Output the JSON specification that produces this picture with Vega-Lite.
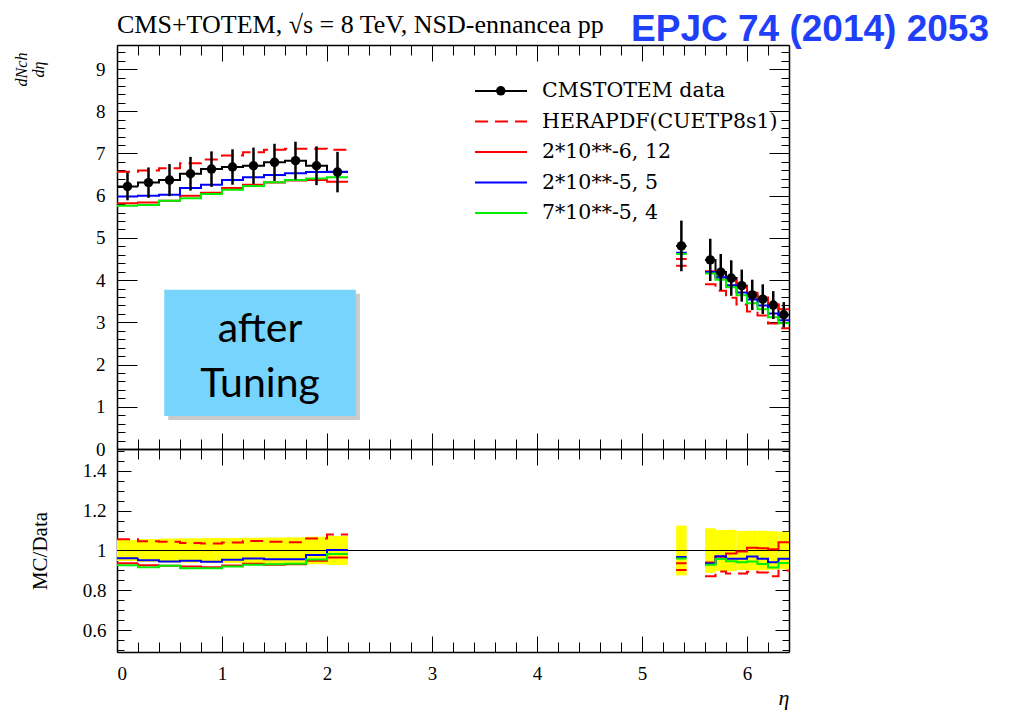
{
  "$schema": "https://vega.github.io/schema/vega-lite/v6.json",
  "background": "white",
  "padding": {"left": 13, "top": 10, "right": 5, "bottom": 5},
  "config": {
    "view": {"stroke": null},
    "font": "Liberation Serif",
    "axis": {
      "grid": false,
      "domainColor": "black",
      "domainWidth": 1.5,
      "tickColor": "black",
      "tickWidth": 1,
      "labelColor": "black",
      "titleColor": "black",
      "labelFont": "Liberation Serif",
      "titleFont": "Liberation Serif",
      "titleFontWeight": "normal"
    }
  },
  "datasets": {
    "dndeta": [
      {"series": "CMSTOTEM data", "part": "c", "eta": 0.0, "val": 6.22},
      {"series": "CMSTOTEM data", "part": "c", "eta": 0.2, "val": 6.31},
      {"series": "CMSTOTEM data", "part": "c", "eta": 0.4, "val": 6.37},
      {"series": "CMSTOTEM data", "part": "c", "eta": 0.6, "val": 6.52},
      {"series": "CMSTOTEM data", "part": "c", "eta": 0.8, "val": 6.63},
      {"series": "CMSTOTEM data", "part": "c", "eta": 1.0, "val": 6.68},
      {"series": "CMSTOTEM data", "part": "c", "eta": 1.2, "val": 6.71},
      {"series": "CMSTOTEM data", "part": "c", "eta": 1.4, "val": 6.79},
      {"series": "CMSTOTEM data", "part": "c", "eta": 1.6, "val": 6.83},
      {"series": "CMSTOTEM data", "part": "c", "eta": 1.8, "val": 6.71},
      {"series": "CMSTOTEM data", "part": "c", "eta": 2.0, "val": 6.56},
      {"series": "CMSTOTEM data", "part": "c", "eta": 2.2, "val": 6.56},
      {"series": "CMSTOTEM data", "part": "f1", "eta": 5.325, "val": 4.81},
      {"series": "CMSTOTEM data", "part": "f1", "eta": 5.425, "val": 4.81},
      {"series": "CMSTOTEM data", "part": "f2", "eta": 5.6, "val": 4.48},
      {"series": "CMSTOTEM data", "part": "f2", "eta": 5.7, "val": 4.19},
      {"series": "CMSTOTEM data", "part": "f2", "eta": 5.8, "val": 4.05},
      {"series": "CMSTOTEM data", "part": "f2", "eta": 5.9, "val": 3.87},
      {"series": "CMSTOTEM data", "part": "f2", "eta": 6.0, "val": 3.65},
      {"series": "CMSTOTEM data", "part": "f2", "eta": 6.1, "val": 3.55},
      {"series": "CMSTOTEM data", "part": "f2", "eta": 6.2, "val": 3.41},
      {"series": "CMSTOTEM data", "part": "f2", "eta": 6.3, "val": 3.18},
      {"series": "CMSTOTEM data", "part": "f2", "eta": 6.4, "val": 3.18},

      {"series": "HERAPDF(CUETP8s1)", "part": "c", "eta": 0.0, "val": 6.57},
      {"series": "HERAPDF(CUETP8s1)", "part": "c", "eta": 0.2, "val": 6.60},
      {"series": "HERAPDF(CUETP8s1)", "part": "c", "eta": 0.4, "val": 6.65},
      {"series": "HERAPDF(CUETP8s1)", "part": "c", "eta": 0.6, "val": 6.77},
      {"series": "HERAPDF(CUETP8s1)", "part": "c", "eta": 0.8, "val": 6.86},
      {"series": "HERAPDF(CUETP8s1)", "part": "c", "eta": 1.0, "val": 6.95},
      {"series": "HERAPDF(CUETP8s1)", "part": "c", "eta": 1.2, "val": 7.03},
      {"series": "HERAPDF(CUETP8s1)", "part": "c", "eta": 1.4, "val": 7.09},
      {"series": "HERAPDF(CUETP8s1)", "part": "c", "eta": 1.6, "val": 7.11},
      {"series": "HERAPDF(CUETP8s1)", "part": "c", "eta": 1.8, "val": 7.11},
      {"series": "HERAPDF(CUETP8s1)", "part": "c", "eta": 2.0, "val": 7.09},
      {"series": "HERAPDF(CUETP8s1)", "part": "c", "eta": 2.2, "val": 7.09},
      {"series": "HERAPDF(CUETP8s1)", "part": "f1", "eta": 5.325, "val": 4.34},
      {"series": "HERAPDF(CUETP8s1)", "part": "f1", "eta": 5.425, "val": 4.34},
      {"series": "HERAPDF(CUETP8s1)", "part": "f2", "eta": 5.6, "val": 3.90},
      {"series": "HERAPDF(CUETP8s1)", "part": "f2", "eta": 5.7, "val": 3.75},
      {"series": "HERAPDF(CUETP8s1)", "part": "f2", "eta": 5.8, "val": 3.58},
      {"series": "HERAPDF(CUETP8s1)", "part": "f2", "eta": 5.9, "val": 3.42},
      {"series": "HERAPDF(CUETP8s1)", "part": "f2", "eta": 6.0, "val": 3.26},
      {"series": "HERAPDF(CUETP8s1)", "part": "f2", "eta": 6.1, "val": 3.16},
      {"series": "HERAPDF(CUETP8s1)", "part": "f2", "eta": 6.2, "val": 2.97},
      {"series": "HERAPDF(CUETP8s1)", "part": "f2", "eta": 6.3, "val": 2.86},
      {"series": "HERAPDF(CUETP8s1)", "part": "f2", "eta": 6.4, "val": 2.86},

      {"series": "2*10**-6, 12", "part": "c", "eta": 0.0, "val": 5.82},
      {"series": "2*10**-6, 12", "part": "c", "eta": 0.2, "val": 5.84},
      {"series": "2*10**-6, 12", "part": "c", "eta": 0.4, "val": 5.88},
      {"series": "2*10**-6, 12", "part": "c", "eta": 0.6, "val": 6.00},
      {"series": "2*10**-6, 12", "part": "c", "eta": 0.8, "val": 6.07},
      {"series": "2*10**-6, 12", "part": "c", "eta": 1.0, "val": 6.18},
      {"series": "2*10**-6, 12", "part": "c", "eta": 1.2, "val": 6.26},
      {"series": "2*10**-6, 12", "part": "c", "eta": 1.4, "val": 6.31},
      {"series": "2*10**-6, 12", "part": "c", "eta": 1.6, "val": 6.36},
      {"series": "2*10**-6, 12", "part": "c", "eta": 1.8, "val": 6.37},
      {"series": "2*10**-6, 12", "part": "c", "eta": 2.0, "val": 6.33},
      {"series": "2*10**-6, 12", "part": "c", "eta": 2.2, "val": 6.33},
      {"series": "2*10**-6, 12", "part": "f1", "eta": 5.325, "val": 4.50},
      {"series": "2*10**-6, 12", "part": "f1", "eta": 5.425, "val": 4.50},
      {"series": "2*10**-6, 12", "part": "f2", "eta": 5.6, "val": 4.21},
      {"series": "2*10**-6, 12", "part": "f2", "eta": 5.7, "val": 4.06},
      {"series": "2*10**-6, 12", "part": "f2", "eta": 5.8, "val": 3.99},
      {"series": "2*10**-6, 12", "part": "f2", "eta": 5.9, "val": 3.85},
      {"series": "2*10**-6, 12", "part": "f2", "eta": 6.0, "val": 3.70},
      {"series": "2*10**-6, 12", "part": "f2", "eta": 6.1, "val": 3.59},
      {"series": "2*10**-6, 12", "part": "f2", "eta": 6.2, "val": 3.43},
      {"series": "2*10**-6, 12", "part": "f2", "eta": 6.3, "val": 3.31},
      {"series": "2*10**-6, 12", "part": "f2", "eta": 6.4, "val": 3.31},

      {"series": "2*10**-5, 5", "part": "c", "eta": 0.0, "val": 5.98},
      {"series": "2*10**-5, 5", "part": "c", "eta": 0.2, "val": 6.00},
      {"series": "2*10**-5, 5", "part": "c", "eta": 0.4, "val": 6.02},
      {"series": "2*10**-5, 5", "part": "c", "eta": 0.6, "val": 6.18},
      {"series": "2*10**-5, 5", "part": "c", "eta": 0.8, "val": 6.26},
      {"series": "2*10**-5, 5", "part": "c", "eta": 1.0, "val": 6.37},
      {"series": "2*10**-5, 5", "part": "c", "eta": 1.2, "val": 6.44},
      {"series": "2*10**-5, 5", "part": "c", "eta": 1.4, "val": 6.49},
      {"series": "2*10**-5, 5", "part": "c", "eta": 1.6, "val": 6.53},
      {"series": "2*10**-5, 5", "part": "c", "eta": 1.8, "val": 6.56},
      {"series": "2*10**-5, 5", "part": "c", "eta": 2.0, "val": 6.57},
      {"series": "2*10**-5, 5", "part": "c", "eta": 2.2, "val": 6.57},
      {"series": "2*10**-5, 5", "part": "f1", "eta": 5.325, "val": 4.65},
      {"series": "2*10**-5, 5", "part": "f1", "eta": 5.425, "val": 4.65},
      {"series": "2*10**-5, 5", "part": "f2", "eta": 5.6, "val": 4.19},
      {"series": "2*10**-5, 5", "part": "f2", "eta": 5.7, "val": 4.07},
      {"series": "2*10**-5, 5", "part": "f2", "eta": 5.8, "val": 3.88},
      {"series": "2*10**-5, 5", "part": "f2", "eta": 5.9, "val": 3.71},
      {"series": "2*10**-5, 5", "part": "f2", "eta": 6.0, "val": 3.54},
      {"series": "2*10**-5, 5", "part": "f2", "eta": 6.1, "val": 3.40},
      {"series": "2*10**-5, 5", "part": "f2", "eta": 6.2, "val": 3.21},
      {"series": "2*10**-5, 5", "part": "f2", "eta": 6.3, "val": 3.05},
      {"series": "2*10**-5, 5", "part": "f2", "eta": 6.4, "val": 3.05},

      {"series": "7*10**-5, 4", "part": "c", "eta": 0.0, "val": 5.76},
      {"series": "7*10**-5, 4", "part": "c", "eta": 0.2, "val": 5.78},
      {"series": "7*10**-5, 4", "part": "c", "eta": 0.4, "val": 5.88},
      {"series": "7*10**-5, 4", "part": "c", "eta": 0.6, "val": 5.94},
      {"series": "7*10**-5, 4", "part": "c", "eta": 0.8, "val": 6.04},
      {"series": "7*10**-5, 4", "part": "c", "eta": 1.0, "val": 6.14},
      {"series": "7*10**-5, 4", "part": "c", "eta": 1.2, "val": 6.23},
      {"series": "7*10**-5, 4", "part": "c", "eta": 1.4, "val": 6.32},
      {"series": "7*10**-5, 4", "part": "c", "eta": 1.6, "val": 6.37},
      {"series": "7*10**-5, 4", "part": "c", "eta": 1.8, "val": 6.41},
      {"series": "7*10**-5, 4", "part": "c", "eta": 2.0, "val": 6.44},
      {"series": "7*10**-5, 4", "part": "c", "eta": 2.2, "val": 6.44},
      {"series": "7*10**-5, 4", "part": "f1", "eta": 5.325, "val": 4.62},
      {"series": "7*10**-5, 4", "part": "f1", "eta": 5.425, "val": 4.62},
      {"series": "7*10**-5, 4", "part": "f2", "eta": 5.6, "val": 4.16},
      {"series": "7*10**-5, 4", "part": "f2", "eta": 5.7, "val": 4.01},
      {"series": "7*10**-5, 4", "part": "f2", "eta": 5.8, "val": 3.83},
      {"series": "7*10**-5, 4", "part": "f2", "eta": 5.9, "val": 3.64},
      {"series": "7*10**-5, 4", "part": "f2", "eta": 6.0, "val": 3.45},
      {"series": "7*10**-5, 4", "part": "f2", "eta": 6.1, "val": 3.31},
      {"series": "7*10**-5, 4", "part": "f2", "eta": 6.2, "val": 3.12},
      {"series": "7*10**-5, 4", "part": "f2", "eta": 6.3, "val": 2.98},
      {"series": "7*10**-5, 4", "part": "f2", "eta": 6.4, "val": 2.98}
    ],
    "points": [
      {"kind": "CMSTOTEM data", "eta": 0.1, "val": 6.22, "err": 0.33},
      {"kind": "CMSTOTEM data", "eta": 0.3, "val": 6.31, "err": 0.36},
      {"kind": "CMSTOTEM data", "eta": 0.5, "val": 6.37, "err": 0.38},
      {"kind": "CMSTOTEM data", "eta": 0.7, "val": 6.52, "err": 0.40},
      {"kind": "CMSTOTEM data", "eta": 0.9, "val": 6.63, "err": 0.42},
      {"kind": "CMSTOTEM data", "eta": 1.1, "val": 6.68, "err": 0.42},
      {"kind": "CMSTOTEM data", "eta": 1.3, "val": 6.71, "err": 0.43},
      {"kind": "CMSTOTEM data", "eta": 1.5, "val": 6.79, "err": 0.44},
      {"kind": "CMSTOTEM data", "eta": 1.7, "val": 6.83, "err": 0.45},
      {"kind": "CMSTOTEM data", "eta": 1.9, "val": 6.71, "err": 0.46},
      {"kind": "CMSTOTEM data", "eta": 2.1, "val": 6.56, "err": 0.48},
      {"kind": "CMSTOTEM data", "eta": 5.375, "val": 4.81, "err": 0.60},
      {"kind": "CMSTOTEM data", "eta": 5.65, "val": 4.48, "err": 0.50},
      {"kind": "CMSTOTEM data", "eta": 5.75, "val": 4.19, "err": 0.43},
      {"kind": "CMSTOTEM data", "eta": 5.85, "val": 4.05, "err": 0.42},
      {"kind": "CMSTOTEM data", "eta": 5.95, "val": 3.87, "err": 0.38},
      {"kind": "CMSTOTEM data", "eta": 6.05, "val": 3.65, "err": 0.36},
      {"kind": "CMSTOTEM data", "eta": 6.15, "val": 3.55, "err": 0.35},
      {"kind": "CMSTOTEM data", "eta": 6.25, "val": 3.41, "err": 0.33},
      {"kind": "CMSTOTEM data", "eta": 6.35, "val": 3.18, "err": 0.30}
    ],
    "band": [
      {"lo": 0.0, "hi": 0.2, "rlo": 0.947, "rhi": 1.053},
      {"lo": 0.2, "hi": 0.4, "rlo": 0.943, "rhi": 1.057},
      {"lo": 0.4, "hi": 0.6, "rlo": 0.940, "rhi": 1.060},
      {"lo": 0.6, "hi": 0.8, "rlo": 0.939, "rhi": 1.061},
      {"lo": 0.8, "hi": 1.0, "rlo": 0.937, "rhi": 1.063},
      {"lo": 1.0, "hi": 1.2, "rlo": 0.937, "rhi": 1.063},
      {"lo": 1.2, "hi": 1.4, "rlo": 0.936, "rhi": 1.064},
      {"lo": 1.4, "hi": 1.6, "rlo": 0.935, "rhi": 1.065},
      {"lo": 1.6, "hi": 1.8, "rlo": 0.934, "rhi": 1.066},
      {"lo": 1.8, "hi": 2.0, "rlo": 0.931, "rhi": 1.069},
      {"lo": 2.0, "hi": 2.2, "rlo": 0.927, "rhi": 1.073},
      {"lo": 5.325, "hi": 5.425, "rlo": 0.875, "rhi": 1.125},
      {"lo": 5.6, "hi": 5.7, "rlo": 0.888, "rhi": 1.112},
      {"lo": 5.7, "hi": 5.8, "rlo": 0.897, "rhi": 1.103},
      {"lo": 5.8, "hi": 5.9, "rlo": 0.896, "rhi": 1.104},
      {"lo": 5.9, "hi": 6.0, "rlo": 0.902, "rhi": 1.098},
      {"lo": 6.0, "hi": 6.1, "rlo": 0.901, "rhi": 1.099},
      {"lo": 6.1, "hi": 6.2, "rlo": 0.901, "rhi": 1.099},
      {"lo": 6.2, "hi": 6.3, "rlo": 0.903, "rhi": 1.097},
      {"lo": 6.3, "hi": 6.4, "rlo": 0.906, "rhi": 1.094}
    ],
    "ratio": [
      {"series": "HERAPDF(CUETP8s1)", "part": "c", "eta": 0.0, "r": 1.056},
      {"series": "HERAPDF(CUETP8s1)", "part": "c", "eta": 0.2, "r": 1.046},
      {"series": "HERAPDF(CUETP8s1)", "part": "c", "eta": 0.4, "r": 1.044},
      {"series": "HERAPDF(CUETP8s1)", "part": "c", "eta": 0.6, "r": 1.038},
      {"series": "HERAPDF(CUETP8s1)", "part": "c", "eta": 0.8, "r": 1.035},
      {"series": "HERAPDF(CUETP8s1)", "part": "c", "eta": 1.0, "r": 1.040},
      {"series": "HERAPDF(CUETP8s1)", "part": "c", "eta": 1.2, "r": 1.048},
      {"series": "HERAPDF(CUETP8s1)", "part": "c", "eta": 1.4, "r": 1.044},
      {"series": "HERAPDF(CUETP8s1)", "part": "c", "eta": 1.6, "r": 1.041},
      {"series": "HERAPDF(CUETP8s1)", "part": "c", "eta": 1.8, "r": 1.060},
      {"series": "HERAPDF(CUETP8s1)", "part": "c", "eta": 2.0, "r": 1.081},
      {"series": "HERAPDF(CUETP8s1)", "part": "c", "eta": 2.2, "r": 1.081},
      {"series": "HERAPDF(CUETP8s1)", "part": "f1", "eta": 5.325, "r": 0.902},
      {"series": "HERAPDF(CUETP8s1)", "part": "f1", "eta": 5.425, "r": 0.902},
      {"series": "HERAPDF(CUETP8s1)", "part": "f2", "eta": 5.6, "r": 0.871},
      {"series": "HERAPDF(CUETP8s1)", "part": "f2", "eta": 5.7, "r": 0.895},
      {"series": "HERAPDF(CUETP8s1)", "part": "f2", "eta": 5.8, "r": 0.884},
      {"series": "HERAPDF(CUETP8s1)", "part": "f2", "eta": 5.9, "r": 0.884},
      {"series": "HERAPDF(CUETP8s1)", "part": "f2", "eta": 6.0, "r": 0.893},
      {"series": "HERAPDF(CUETP8s1)", "part": "f2", "eta": 6.1, "r": 0.890},
      {"series": "HERAPDF(CUETP8s1)", "part": "f2", "eta": 6.2, "r": 0.871},
      {"series": "HERAPDF(CUETP8s1)", "part": "f2", "eta": 6.3, "r": 0.899},
      {"series": "HERAPDF(CUETP8s1)", "part": "f2", "eta": 6.4, "r": 0.899},

      {"series": "2*10**-6, 12", "part": "c", "eta": 0.0, "r": 0.936},
      {"series": "2*10**-6, 12", "part": "c", "eta": 0.2, "r": 0.926},
      {"series": "2*10**-6, 12", "part": "c", "eta": 0.4, "r": 0.923},
      {"series": "2*10**-6, 12", "part": "c", "eta": 0.6, "r": 0.920},
      {"series": "2*10**-6, 12", "part": "c", "eta": 0.8, "r": 0.916},
      {"series": "2*10**-6, 12", "part": "c", "eta": 1.0, "r": 0.925},
      {"series": "2*10**-6, 12", "part": "c", "eta": 1.2, "r": 0.933},
      {"series": "2*10**-6, 12", "part": "c", "eta": 1.4, "r": 0.929},
      {"series": "2*10**-6, 12", "part": "c", "eta": 1.6, "r": 0.931},
      {"series": "2*10**-6, 12", "part": "c", "eta": 1.8, "r": 0.949},
      {"series": "2*10**-6, 12", "part": "c", "eta": 2.0, "r": 0.965},
      {"series": "2*10**-6, 12", "part": "c", "eta": 2.2, "r": 0.965},
      {"series": "2*10**-6, 12", "part": "f1", "eta": 5.325, "r": 0.936},
      {"series": "2*10**-6, 12", "part": "f1", "eta": 5.425, "r": 0.936},
      {"series": "2*10**-6, 12", "part": "f2", "eta": 5.6, "r": 0.940},
      {"series": "2*10**-6, 12", "part": "f2", "eta": 5.7, "r": 0.969},
      {"series": "2*10**-6, 12", "part": "f2", "eta": 5.8, "r": 0.985},
      {"series": "2*10**-6, 12", "part": "f2", "eta": 5.9, "r": 0.995},
      {"series": "2*10**-6, 12", "part": "f2", "eta": 6.0, "r": 1.014},
      {"series": "2*10**-6, 12", "part": "f2", "eta": 6.1, "r": 1.011},
      {"series": "2*10**-6, 12", "part": "f2", "eta": 6.2, "r": 1.006},
      {"series": "2*10**-6, 12", "part": "f2", "eta": 6.3, "r": 1.041},
      {"series": "2*10**-6, 12", "part": "f2", "eta": 6.4, "r": 1.041},

      {"series": "2*10**-5, 5", "part": "c", "eta": 0.0, "r": 0.961},
      {"series": "2*10**-5, 5", "part": "c", "eta": 0.2, "r": 0.951},
      {"series": "2*10**-5, 5", "part": "c", "eta": 0.4, "r": 0.945},
      {"series": "2*10**-5, 5", "part": "c", "eta": 0.6, "r": 0.948},
      {"series": "2*10**-5, 5", "part": "c", "eta": 0.8, "r": 0.944},
      {"series": "2*10**-5, 5", "part": "c", "eta": 1.0, "r": 0.954},
      {"series": "2*10**-5, 5", "part": "c", "eta": 1.2, "r": 0.960},
      {"series": "2*10**-5, 5", "part": "c", "eta": 1.4, "r": 0.956},
      {"series": "2*10**-5, 5", "part": "c", "eta": 1.6, "r": 0.956},
      {"series": "2*10**-5, 5", "part": "c", "eta": 1.8, "r": 0.978},
      {"series": "2*10**-5, 5", "part": "c", "eta": 2.0, "r": 1.002},
      {"series": "2*10**-5, 5", "part": "c", "eta": 2.2, "r": 1.002},
      {"series": "2*10**-5, 5", "part": "f1", "eta": 5.325, "r": 0.967},
      {"series": "2*10**-5, 5", "part": "f1", "eta": 5.425, "r": 0.967},
      {"series": "2*10**-5, 5", "part": "f2", "eta": 5.6, "r": 0.935},
      {"series": "2*10**-5, 5", "part": "f2", "eta": 5.7, "r": 0.971},
      {"series": "2*10**-5, 5", "part": "f2", "eta": 5.8, "r": 0.958},
      {"series": "2*10**-5, 5", "part": "f2", "eta": 5.9, "r": 0.959},
      {"series": "2*10**-5, 5", "part": "f2", "eta": 6.0, "r": 0.970},
      {"series": "2*10**-5, 5", "part": "f2", "eta": 6.1, "r": 0.958},
      {"series": "2*10**-5, 5", "part": "f2", "eta": 6.2, "r": 0.941},
      {"series": "2*10**-5, 5", "part": "f2", "eta": 6.3, "r": 0.959},
      {"series": "2*10**-5, 5", "part": "f2", "eta": 6.4, "r": 0.959},

      {"series": "7*10**-5, 4", "part": "c", "eta": 0.0, "r": 0.926},
      {"series": "7*10**-5, 4", "part": "c", "eta": 0.2, "r": 0.916},
      {"series": "7*10**-5, 4", "part": "c", "eta": 0.4, "r": 0.923},
      {"series": "7*10**-5, 4", "part": "c", "eta": 0.6, "r": 0.911},
      {"series": "7*10**-5, 4", "part": "c", "eta": 0.8, "r": 0.911},
      {"series": "7*10**-5, 4", "part": "c", "eta": 1.0, "r": 0.919},
      {"series": "7*10**-5, 4", "part": "c", "eta": 1.2, "r": 0.928},
      {"series": "7*10**-5, 4", "part": "c", "eta": 1.4, "r": 0.931},
      {"series": "7*10**-5, 4", "part": "c", "eta": 1.6, "r": 0.933},
      {"series": "7*10**-5, 4", "part": "c", "eta": 1.8, "r": 0.955},
      {"series": "7*10**-5, 4", "part": "c", "eta": 2.0, "r": 0.982},
      {"series": "7*10**-5, 4", "part": "c", "eta": 2.2, "r": 0.982},
      {"series": "7*10**-5, 4", "part": "f1", "eta": 5.325, "r": 0.960},
      {"series": "7*10**-5, 4", "part": "f1", "eta": 5.425, "r": 0.960},
      {"series": "7*10**-5, 4", "part": "f2", "eta": 5.6, "r": 0.929},
      {"series": "7*10**-5, 4", "part": "f2", "eta": 5.7, "r": 0.957},
      {"series": "7*10**-5, 4", "part": "f2", "eta": 5.8, "r": 0.946},
      {"series": "7*10**-5, 4", "part": "f2", "eta": 5.9, "r": 0.941},
      {"series": "7*10**-5, 4", "part": "f2", "eta": 6.0, "r": 0.945},
      {"series": "7*10**-5, 4", "part": "f2", "eta": 6.1, "r": 0.932},
      {"series": "7*10**-5, 4", "part": "f2", "eta": 6.2, "r": 0.915},
      {"series": "7*10**-5, 4", "part": "f2", "eta": 6.3, "r": 0.937},
      {"series": "7*10**-5, 4", "part": "f2", "eta": 6.4, "r": 0.937}
    ]
  },
  "spacing": 0,
  "bounds": "flush",
  "resolve": {
    "scale": {"x": "independent", "y": "independent", "color": "independent", "strokeDash": "independent", "shape": "independent"}
  },
  "vconcat": [
    {
      "width": 672,
      "height": 404,
      "resolve": {"axis": {"x": "independent", "y": "independent"}},
      "layer": [
        {
          "data": {"name": "dndeta"},
          "mark": {"type": "line", "interpolate": "step-after", "strokeWidth": 2},
          "encoding": {
            "x": {
              "field": "eta", "type": "quantitative",
              "scale": {"domain": [0, 6.4], "nice": false, "zero": false},
              "axis": {
                "orient": "bottom", "labels": false, "title": null,
                "values": [0,0.2,0.4,0.6,0.8,1,1.2,1.4,1.6,1.8,2,2.2,2.4,2.6,2.8,3,3.2,3.4,3.6,3.8,4,4.2,4.4,4.6,4.8,5,5.2,5.4,5.6,5.8,6,6.2],
                "tickSize": {"condition": {"test": "abs(datum.value - round(datum.value)) < 0.001", "value": -16}, "value": -10}
              }
            },
            "y": {
              "field": "val", "type": "quantitative",
              "scale": {"domain": [0, 9.57], "nice": false, "zero": false},
              "axis": {
                "orient": "left",
                "values": [0,0.2,0.4,0.6,0.8,1,1.2,1.4,1.6,1.8,2,2.2,2.4,2.6,2.8,3,3.2,3.4,3.6,3.8,4,4.2,4.4,4.6,4.8,5,5.2,5.4,5.6,5.8,6,6.2,6.4,6.6,6.8,7,7.2,7.4,7.6,7.8,8,8.2,8.4,8.6,8.8,9,9.2,9.4],
                "tickSize": {"condition": {"test": "abs(datum.value - round(datum.value)) < 0.001", "value": -20}, "value": -8},
                "labelExpr": "abs(datum.value - round(datum.value)) < 0.001 ? toString(round(datum.value)) : ''",
                "labelFontSize": 19,
                "labelPadding": 32,
                "title": ["dNch", "dη"],
                "titleFontStyle": "italic",
                "titleFontSize": 16,
                "titleAlign": "center",
                "titleLineHeight": 17,
                "titleX": -88,
                "titleY": 24
              }
            },
            "color": {
              "field": "series", "type": "nominal",
              "scale": {
                "domain": ["CMSTOTEM data", "HERAPDF(CUETP8s1)", "2*10**-6, 12", "2*10**-5, 5", "7*10**-5, 4"],
                "range": ["#000000", "#ff0000", "#ff0000", "#0000ff", "#00ee00"]
              },
              "legend": {
                "orient": "none", "legendX": 370, "legendY": 32, "title": null, "padding": 0,
                "symbolType": "M-2,0H2", "symbolSize": 676, "symbolStrokeWidth": 2,
                "labelFont": "DejaVu Serif", "labelFontSize": 20.5, "labelColor": "black",
                "labelOffset": 27, "labelLimit": 400, "rowPadding": 5.5
              }
            },
            "strokeDash": {
              "field": "series", "type": "nominal",
              "scale": {
                "domain": ["CMSTOTEM data", "HERAPDF(CUETP8s1)", "2*10**-6, 12", "2*10**-5, 5", "7*10**-5, 4"],
                "range": [[1, 0], [13, 7], [1, 0], [1, 0], [1, 0]]
              },
              "legend": {
                "orient": "none", "legendX": 370, "legendY": 32, "title": null, "padding": 0,
                "symbolType": "M-2,0H2", "symbolSize": 676, "symbolStrokeWidth": 2,
                "labelFont": "DejaVu Serif", "labelFontSize": 20.5, "labelColor": "black",
                "labelOffset": 27, "labelLimit": 400, "rowPadding": 5.5
              }
            },
            "detail": {"field": "part", "type": "nominal"}
          }
        },
        {
          "data": {"name": "points"},
          "mark": {"type": "errorbar", "color": "black", "thickness": 2.5},
          "encoding": {
            "x": {"field": "eta", "type": "quantitative", "scale": {"domain": [0, 6.4], "nice": false, "zero": false}, "axis": null},
            "y": {"field": "val", "type": "quantitative", "scale": {"domain": [0, 9.57], "nice": false, "zero": false}, "axis": null},
            "yError": {"field": "err"}
          }
        },
        {
          "data": {"name": "points"},
          "mark": {"type": "point", "filled": true, "color": "black", "opacity": 1, "size": 90},
          "encoding": {
            "x": {
              "field": "eta", "type": "quantitative",
              "scale": {"domain": [0, 6.4], "nice": false, "zero": false},
              "axis": {
                "orient": "top", "labels": false, "title": null,
                "values": [0,0.2,0.4,0.6,0.8,1,1.2,1.4,1.6,1.8,2,2.2,2.4,2.6,2.8,3,3.2,3.4,3.6,3.8,4,4.2,4.4,4.6,4.8,5,5.2,5.4,5.6,5.8,6,6.2],
                "tickSize": {"condition": {"test": "abs(datum.value - round(datum.value)) < 0.001", "value": -16}, "value": -10}
              }
            },
            "y": {
              "field": "val", "type": "quantitative",
              "scale": {"domain": [0, 9.57], "nice": false, "zero": false},
              "axis": {
                "orient": "right", "labels": false, "title": null,
                "values": [0,0.2,0.4,0.6,0.8,1,1.2,1.4,1.6,1.8,2,2.2,2.4,2.6,2.8,3,3.2,3.4,3.6,3.8,4,4.2,4.4,4.6,4.8,5,5.2,5.4,5.6,5.8,6,6.2,6.4,6.6,6.8,7,7.2,7.4,7.6,7.8,8,8.2,8.4,8.6,8.8,9,9.2,9.4],
                "tickSize": {"condition": {"test": "abs(datum.value - round(datum.value)) < 0.001", "value": -20}, "value": -8}
              }
            },
            "shape": {
              "field": "kind", "type": "nominal",
              "scale": {"domain": ["CMSTOTEM data"], "range": ["circle"]},
              "legend": {
                "orient": "none", "legendX": 378.3, "legendY": 40.3, "title": null, "padding": 0,
                "symbolSize": 90, "symbolFillColor": "black", "symbolStrokeColor": "black",
                "labelExpr": "''", "labelOffset": 0
              }
            }
          }
        },
        {
          "data": {"values": [{}]},
          "mark": {"type": "rect", "color": "#7a7a7a", "opacity": 0.4, "xOffset": 4, "x2Offset": 4, "yOffset": 4, "y2Offset": 4},
          "encoding": {
            "x": {"datum": 0.45, "type": "quantitative", "scale": {"domain": [0, 6.4], "nice": false, "zero": false}, "axis": null},
            "x2": {"datum": 2.275},
            "y": {"datum": 3.77, "type": "quantitative", "scale": {"domain": [0, 9.57], "nice": false, "zero": false}, "axis": null},
            "y2": {"datum": 0.78}
          }
        },
        {
          "data": {"values": [{}]},
          "mark": {"type": "rect", "color": "#76d4fd", "opacity": 1},
          "encoding": {
            "x": {"datum": 0.45, "type": "quantitative", "scale": {"domain": [0, 6.4], "nice": false, "zero": false}, "axis": null},
            "x2": {"datum": 2.275},
            "y": {"datum": 3.77, "type": "quantitative", "scale": {"domain": [0, 9.57], "nice": false, "zero": false}, "axis": null},
            "y2": {"datum": 0.78}
          }
        },
        {
          "data": {"values": [{}]},
          "mark": {"type": "text", "text": ["after", "Tuning"], "font": "Lato", "fontSize": 41, "lineHeight": 55, "align": "center", "baseline": "middle", "color": "black"},
          "encoding": {
            "x": {"datum": 1.362, "type": "quantitative", "scale": {"domain": [0, 6.4], "nice": false, "zero": false}, "axis": null},
            "y": {"datum": 2.83, "type": "quantitative", "scale": {"domain": [0, 9.57], "nice": false, "zero": false}, "axis": null}
          }
        },
        {
          "data": {"values": [{}]},
          "mark": {"type": "text", "text": "CMS+TOTEM, √s = 8 TeV, NSD-ennancea pp", "font": "Liberation Serif", "fontSize": 26, "align": "left", "baseline": "alphabetic", "color": "black"},
          "encoding": {
            "x": {"datum": 0, "type": "quantitative", "scale": {"domain": [0, 6.4], "nice": false, "zero": false}, "axis": null},
            "y": {"datum": 9.86, "type": "quantitative", "scale": {"domain": [0, 9.57], "nice": false, "zero": false}, "axis": null}
          }
        },
        {
          "data": {"values": [{}]},
          "mark": {"type": "text", "text": "EPJC 74 (2014) 2053", "font": "Liberation Sans", "fontWeight": "bold", "fontSize": 37, "align": "center", "baseline": "middle", "color": "#1f40f8"},
          "encoding": {
            "x": {"datum": 6.6, "type": "quantitative", "scale": {"domain": [0, 6.4], "nice": false, "zero": false}, "axis": null},
            "y": {"datum": 9.93, "type": "quantitative", "scale": {"domain": [0, 9.57], "nice": false, "zero": false}, "axis": null}
          }
        }
      ]
    },
    {
      "width": 672,
      "height": 203,
      "resolve": {"axis": {"x": "independent", "y": "independent"}},
      "layer": [
        {
          "data": {"name": "band"},
          "mark": {"type": "rect", "color": "#ffff00", "opacity": 1},
          "encoding": {
            "x": {
              "field": "lo", "type": "quantitative",
              "scale": {"domain": [0, 6.4], "nice": false, "zero": false},
              "axis": {
                "orient": "bottom",
                "values": [0,0.2,0.4,0.6,0.8,1,1.2,1.4,1.6,1.8,2,2.2,2.4,2.6,2.8,3,3.2,3.4,3.6,3.8,4,4.2,4.4,4.6,4.8,5,5.2,5.4,5.6,5.8,6,6.2],
                "tickSize": {"condition": {"test": "abs(datum.value - round(datum.value)) < 0.001", "value": -16}, "value": -10},
                "labelExpr": "abs(datum.value - round(datum.value)) < 0.001 ? toString(round(datum.value)) : ''",
                "labelFontSize": 19,
                "labelPadding": 28,
                "title": "η",
                "titleFontStyle": "italic",
                "titleFontSize": 22,
                "titleAnchor": "end",
                "titlePadding": 4
              }
            },
            "x2": {"field": "hi"},
            "y": {
              "field": "rlo", "type": "quantitative",
              "scale": {"domain": [0.49, 1.51], "nice": false, "zero": false},
              "axis": {
                "orient": "left",
                "values": [0.5,0.55,0.6,0.65,0.7,0.75,0.8,0.85,0.9,0.95,1,1.05,1.1,1.15,1.2,1.25,1.3,1.35,1.4,1.45,1.5],
                "tickSize": {"condition": {"test": "abs(datum.value * 5 - round(datum.value * 5)) < 0.001", "value": -14}, "value": -7},
                "labelExpr": "abs(datum.value * 5 - round(datum.value * 5)) < 0.001 ? (abs(datum.value - 1) < 0.001 ? '1' : format(datum.value, '.1f')) : ''",
                "labelFontSize": 19,
                "labelPadding": 25,
                "title": "MC/Data",
                "titleFontSize": 21,
                "titleX": -67
              }
            },
            "y2": {"field": "rhi"}
          }
        },
        {
          "data": {"values": [{}]},
          "mark": {"type": "rule", "color": "black", "strokeWidth": 1},
          "encoding": {
            "y": {"datum": 1, "type": "quantitative", "scale": {"domain": [0.49, 1.51], "nice": false, "zero": false}, "axis": null}
          }
        },
        {
          "data": {"name": "ratio"},
          "mark": {"type": "line", "interpolate": "step-after", "strokeWidth": 2},
          "encoding": {
            "x": {
              "field": "eta", "type": "quantitative",
              "scale": {"domain": [0, 6.4], "nice": false, "zero": false},
              "axis": {
                "orient": "top", "labels": false, "title": null,
                "values": [0,0.2,0.4,0.6,0.8,1,1.2,1.4,1.6,1.8,2,2.2,2.4,2.6,2.8,3,3.2,3.4,3.6,3.8,4,4.2,4.4,4.6,4.8,5,5.2,5.4,5.6,5.8,6,6.2],
                "tickSize": {"condition": {"test": "abs(datum.value - round(datum.value)) < 0.001", "value": -16}, "value": -10}
              }
            },
            "y": {
              "field": "r", "type": "quantitative",
              "scale": {"domain": [0.49, 1.51], "nice": false, "zero": false},
              "axis": {
                "orient": "right", "labels": false, "title": null,
                "values": [0.5,0.55,0.6,0.65,0.7,0.75,0.8,0.85,0.9,0.95,1,1.05,1.1,1.15,1.2,1.25,1.3,1.35,1.4,1.45,1.5],
                "tickSize": {"condition": {"test": "abs(datum.value * 5 - round(datum.value * 5)) < 0.001", "value": -14}, "value": -7}
              }
            },
            "color": {
              "field": "series", "type": "nominal",
              "scale": {
                "domain": ["HERAPDF(CUETP8s1)", "2*10**-6, 12", "2*10**-5, 5", "7*10**-5, 4"],
                "range": ["#ff0000", "#ff0000", "#0000ff", "#00ee00"]
              },
              "legend": null
            },
            "strokeDash": {
              "field": "series", "type": "nominal",
              "scale": {
                "domain": ["HERAPDF(CUETP8s1)", "2*10**-6, 12", "2*10**-5, 5", "7*10**-5, 4"],
                "range": [[13, 7], [1, 0], [1, 0], [1, 0]]
              },
              "legend": null
            },
            "detail": {"field": "part", "type": "nominal"}
          }
        }
      ]
    }
  ]
}
